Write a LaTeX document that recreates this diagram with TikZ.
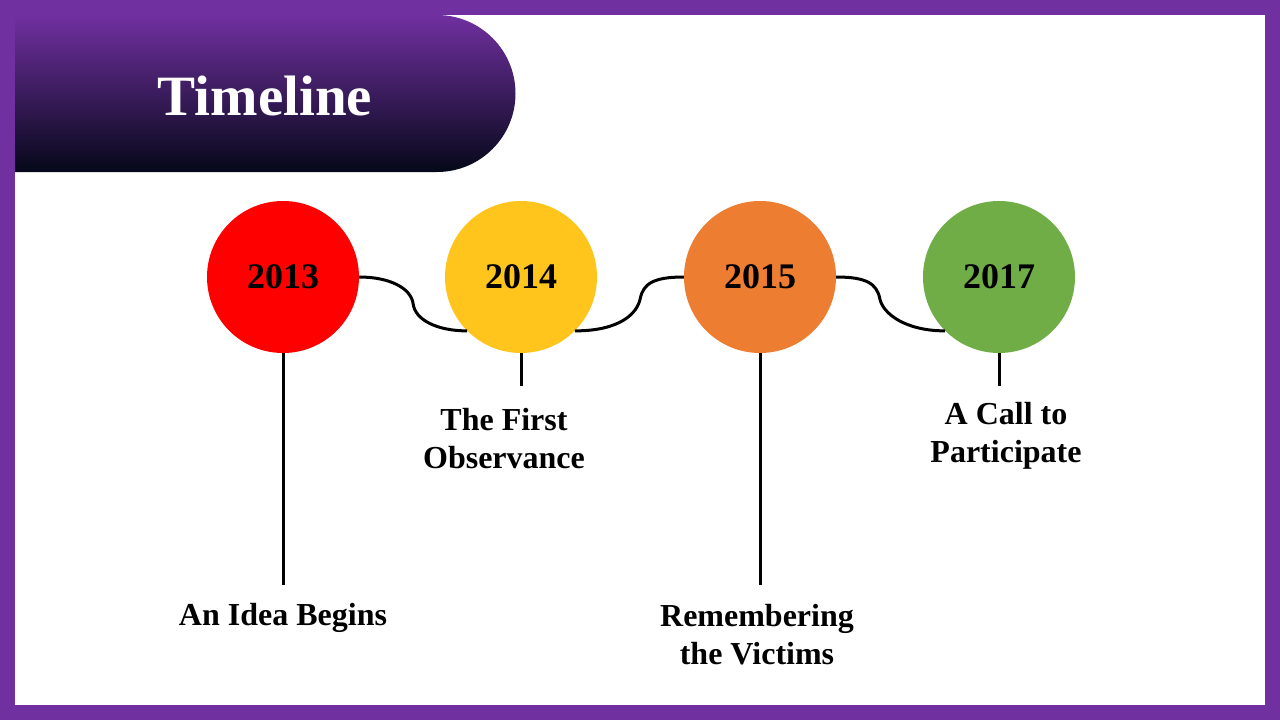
\documentclass[tikz,border=0pt]{standalone}
\usepackage{fontspec}
\setmainfont{Liberation Serif}
\usepackage{xcolor}
\usepackage{tikz}
\usetikzlibrary{calc,positioning}
\definecolor{framepurple}{HTML}{7030A0}
\definecolor{bannerdark}{HTML}{050819}
\definecolor{yred}{HTML}{FF0000}
\definecolor{yyellow}{HTML}{FFC51D}
\definecolor{yorange}{HTML}{ED7D31}
\definecolor{ygreen}{HTML}{70AD47}
\tikzset{every node/.append style={font=\bfseries}}

\begin{document}
\begin{tikzpicture}[x=1pt, y=-1pt,
    year/.style={circle, minimum size=152pt, inner sep=0pt, font=\fontsize{36}{40}\selectfont\bfseries},
    caption/.style={align=center, inner sep=0pt, font=\fontsize{32}{38}\selectfont\bfseries},
    link/.style={line width=3pt}]
    % frame and page
    \fill[framepurple] (0,0) rectangle (1280,720);
    \fill[white] (15,15) rectangle (1265,705);
    % title banner
    \shade[top color=framepurple, bottom color=bannerdark] (15,15) -- (437,15) arc[start angle=-90, end angle=90, radius=78.5] -- (15,172) -- cycle;
    \node[text=white, font=\fontsize{57}{60}\selectfont\bfseries] (title) at (265,96) {Timeline};
    % years
    \node[year, fill=yred] (y13) at (283,277) {2013};
    \node[year, fill=yyellow] (y14) at (521,277) {2014};
    \node[year, fill=yorange] (y15) at (760,277) {2015};
    \node[year, fill=ygreen] (y17) at (999,277) {2017};
    % wavy links
    \draw[link] (y13.east) .. controls +(30,0) and +(-2,-16) .. ($(y13.east)!0.5!(y14.225)$)
        .. controls +(2,16) and +(-30,0) .. (y14.225);
    \draw[link] (y14.-45) .. controls +(45,0) and +(-3,15) .. ($(y14.-45)!0.6!(y15.west)$)
        .. controls +(3,-15) and +(-30,0) .. (y15.west);
    \draw[link] (y15.east) .. controls +(30,0) and +(-3,-15) .. ($(y15.east)!0.4!(y17.225)$)
        .. controls +(3,15) and +(-40,0) .. (y17.225);
    % stems
    \coordinate[below=232pt of y13] (s13);
    \coordinate[below=33pt of y14] (s14);
    \coordinate[below=232pt of y15] (s15);
    \coordinate[below=33pt of y17] (s17);
    \draw[link] (y13.south) -- (s13);
    \draw[link] (y14.south) -- (s14);
    \draw[link] (y15.south) -- (s15);
    \draw[link] (y17.south) -- (s17);
    % captions
    \node[caption, below=18pt of s13] (t13) {An Idea Begins};
    \node[caption, below=22pt of s14, xshift=-17pt] (t14) {The First\\Observance};
    \node[caption, below=19pt of s15, xshift=-3pt] (t15) {Remembering\\the Victims};
    \node[caption, below=16pt of s17, xshift=7pt] (t17) {A Call to\\Participate};
\end{tikzpicture}
\end{document}
